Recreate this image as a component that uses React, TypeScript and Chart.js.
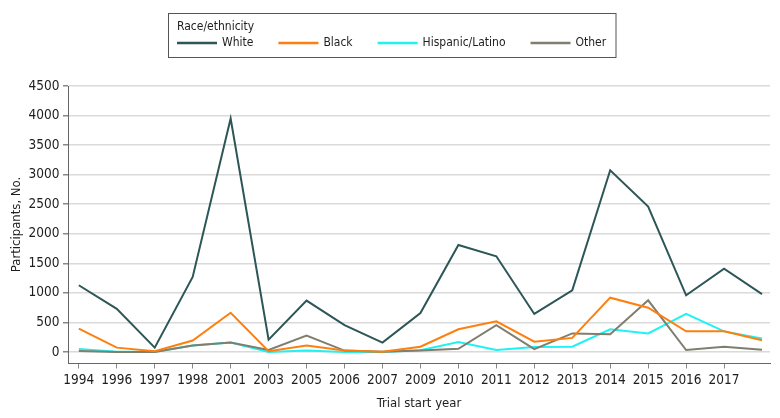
import { useEffect, useRef } from "react";
import { Chart, registerables } from "chart.js";

Chart.register(...registerables);

// ---- data ----
const yearLabels = [
  "1994", "1996", "1997", "1998", "2001", "2003", "2005", "2006", "2007", "2009",
  "2010", "2011", "2012", "2013", "2014", "2015", "2016", "2017", "",
];
const whiteValues = [1130, 730, 75, 1270, 3950, 210, 870, 455, 160, 660, 1810, 1620, 645, 1045, 3075, 2460, 960, 1410, 980];
const blackValues = [395, 75, 15, 195, 665, 15, 110, 25, 5, 90, 385, 520, 175, 240, 920, 750, 350, 350, 200];
const hispanicValues = [50, 5, 5, 110, 160, 0, 25, 0, 0, 30, 170, 35, 85, 90, 385, 315, 645, 350, 230];
const otherValues = [20, 0, 0, 110, 160, 35, 280, 25, 5, 25, 55, 455, 50, 315, 300, 875, 35, 90, 40];
const yTickValues = [0, 500, 1000, 1500, 2000, 2500, 3000, 3500, 4000, 4500];
const seriesNames = ["White", "Black", "Hispanic/Latino", "Other"];
const legendTitle = "Race/ethnicity";
const xAxisTitle = "Trial start year";
const yAxisTitle = "Participants, No.";

const FONT = "'DejaVu Sans Condensed', 'DejaVu Sans', sans-serif";
const TEXT = "#1e1e1e";
const COLORS = ["#2d5656", "#ff7f0e", "#1ff2f2", "#807e6e"];

const toPoints = (vals: number[]) => vals.map((v, i) => ({ x: i, y: v }));

const boxedLegend = {
  id: "boxedLegend",
  afterDraw(chart: any) {
    const ctx: CanvasRenderingContext2D = chart.ctx;
    ctx.save();
    ctx.font = `12px ${FONT}`;
    ctx.textBaseline = "middle";
    ctx.textAlign = "left";
    ctx.fillStyle = TEXT;
    const startX = 177;
    const swatch = 40;
    const gapText = 5;
    const gapItem = 25;
    ctx.fillText(legendTitle, startX, 27);
    let x = startX;
    chart.data.datasets.forEach((ds: any, i: number) => {
      ctx.strokeStyle = ds.borderColor;
      ctx.lineWidth = 2.5;
      ctx.beginPath();
      ctx.moveTo(x, 43);
      ctx.lineTo(x + swatch, 43);
      ctx.stroke();
      x += swatch + gapText;
      ctx.fillStyle = TEXT;
      ctx.fillText(ds.label, x, 43);
      x += ctx.measureText(ds.label).width;
      if (i < chart.data.datasets.length - 1) x += gapItem;
    });
    ctx.strokeStyle = "#555555";
    ctx.lineWidth = 1;
    const left = 168.5;
    ctx.strokeRect(left, 13.5, Math.round(x + 10) - left, 44);
    ctx.restore();
  },
};

export default function App() {
  const ref = useRef<HTMLCanvasElement>(null);
  useEffect(() => {
    document.body.style.margin = "0";
    const lastIndex = yearLabels.length - 1;
    const chart = new Chart(ref.current!, {
      type: "line",
      data: {
        datasets: [
          { label: seriesNames[0], data: toPoints(whiteValues), borderColor: COLORS[0], backgroundColor: COLORS[0], order: 0 },
          { label: seriesNames[1], data: toPoints(blackValues), borderColor: COLORS[1], backgroundColor: COLORS[1], order: 1 },
          { label: seriesNames[2], data: toPoints(hispanicValues), borderColor: COLORS[2], backgroundColor: COLORS[2], order: 3 },
          { label: seriesNames[3], data: toPoints(otherValues), borderColor: COLORS[3], backgroundColor: COLORS[3], order: 2 },
        ],
      },
      options: {
        responsive: false,
        animation: false,
        devicePixelRatio: 1,
        layout: { padding: { top: 86, right: 10, left: 0, bottom: 0 } },
        elements: {
          line: { borderWidth: 2, tension: 0 },
          point: { radius: 0, hoverRadius: 0 },
        },
        plugins: {
          legend: { display: false },
          tooltip: { enabled: false },
        },
        scales: {
          x: {
            type: "linear",
            min: -0.285,
            max: 18.21,
            afterBuildTicks: (scale: any) => {
              scale.ticks = yearLabels.map((_, i) => ({ value: i }));
            },
            afterFit: (scale: any) => {
              scale.height = 55;
            },
            ticks: {
              autoSkip: false,
              maxRotation: 0,
              padding: 4,
              color: TEXT,
              font: { family: FONT, size: 13.5 },
              callback: (v: any) => yearLabels[v] ?? "",
            },
            grid: {
              drawOnChartArea: false,
              drawTicks: true,
              tickLength: 5.5,
              tickColor: (c: any) => (c.index === lastIndex ? "rgba(0,0,0,0)" : "#888888"),
            },
            border: { display: true, color: "#666666", width: 1 },
            title: {
              display: true,
              text: xAxisTitle,
              color: TEXT,
              font: { family: FONT, size: 13 },
              padding: { top: 0, bottom: 7 },
            },
          },
          y: {
            type: "linear",
            min: -185,
            max: 4500,
            afterBuildTicks: (scale: any) => {
              scale.ticks = yTickValues.map((v) => ({ value: v }));
            },
            afterFit: (scale: any) => {
              scale.width = 68;
            },
            ticks: {
              padding: 3.5,
              color: TEXT,
              font: { family: FONT, size: 13.5 },
              callback: (v: any) => String(v),
            },
            grid: {
              color: "#dadada",
              lineWidth: 1.5,
              drawTicks: true,
              tickLength: 5,
              tickColor: "#888888",
            },
            border: { display: true, color: "#666666", width: 1 },
            title: {
              display: true,
              text: yAxisTitle,
              color: TEXT,
              font: { family: FONT, size: 13 },
              padding: { top: 9, bottom: 0 },
            },
          },
        },
      },
      plugins: [boxedLegend],
    } as any);
    return () => chart.destroy();
  }, []);
  return (
    <div style={{ width: 780, height: 418, position: "relative" }}>
      <canvas ref={ref} width={780} height={418} style={{ display: "block" }} />
    </div>
  );
}
